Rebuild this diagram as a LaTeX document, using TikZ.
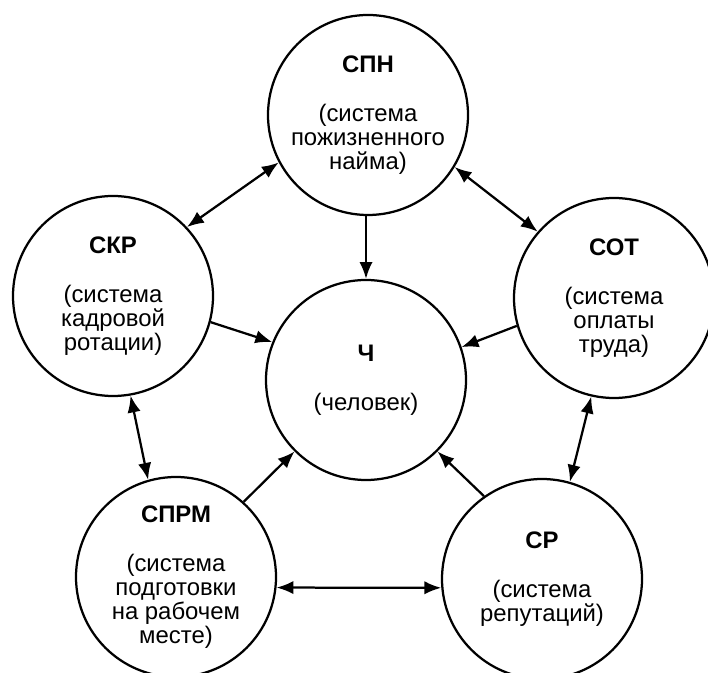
\documentclass[tikz,border=0pt]{standalone}
\usepackage{fontspec}
\setmainfont{Liberation Sans}
\usetikzlibrary{arrows.meta}
\begin{document}
\begin{tikzpicture}[line width=1.6pt,>={Latex[length=12pt,width=9.5pt]},
  sys/.style={circle,draw,minimum size=5cm,inner sep=0pt,align=center,
    font=\fontsize{17}{17}\selectfont}]
\useasboundingbox (0,0) rectangle (17.7,16.8);
\clip (0,0) rectangle (17.7,16.8);
\node[sys] (SPN) at (9.2,13.925) {{\bfseries СПН}\\[18pt](система\\пожизненного\\найма)};
\node[sys] (SKR) at (2.825,9.4) {{\bfseries СКР}\\[18pt](система\\кадровой\\ротации)};
\node[sys] (SOT) at (15.35,9.35) {{\bfseries СОТ}\\[18pt](система\\оплаты\\труда)};
\node[sys] (CH) at (9.15,7.3) {{\bfseries Ч}\\[18pt](человек)};
\node[sys] (SPRM) at (4.4,2.375) {{\bfseries СПРМ}\\[18pt](система\\подготовки\\на рабочем\\месте)};
\node[sys] (SR) at (13.55,2.325) {{\bfseries СР}\\[18pt](система\\репутаций)};
\draw[<->] (SPN.208)--(SKR.43);
\draw[<->] (SPN.329)--(SOT.139);
\draw[<->] (SKR.280)--(SPRM.106);
\draw[<->] (SOT.257)--(SR.74);
\draw[<->] (SPRM.354)--(SR.185);
\draw[->] (SPN.south -| CH.north)--(CH.north);
\draw[->] (SKR.345)--(CH.158);
\draw[->] (SOT.196)--(CH.19);
\draw[->] (SPRM.48)--(CH.225);
\draw[->] (SR.125)--(CH.315);
\end{tikzpicture}
\end{document}
